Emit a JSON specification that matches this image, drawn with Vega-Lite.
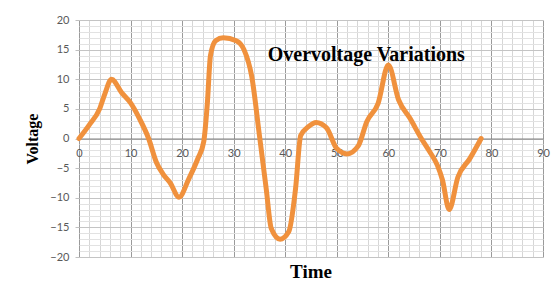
{
  "$schema": "https://vega.github.io/schema/vega-lite/v6.json",
  "width": 464,
  "height": 237,
  "autosize": {"type": "none"},
  "padding": {"left": 79, "top": 20, "right": 16, "bottom": 34},
  "background": "white",
  "config": {"view": {"stroke": null}},
  "title": {
    "text": "Time",
    "orient": "bottom",
    "anchor": "middle",
    "frame": "group",
    "font": "Liberation Serif",
    "fontSize": 19,
    "fontWeight": "bold",
    "color": "#000000",
    "offset": 1
  },
  "encoding": {
    "x": {
      "field": "t", "type": "quantitative",
      "scale": {"domain": [0, 90], "nice": false, "zero": false},
      "axis": {
        "title": null,
        "values": [0,2,4,6,8,10,12,14,16,18,20,22,24,26,28,30,32,34,36,38,40,42,44,46,48,50,52,54,56,58,60,62,64,66,68,70,72,74,76,78,80,82,84,86,88,90],
        "labelExpr": "datum.value % 10 === 0 ? datum.label : ''",
        "labelOverlap": false,
        "labelFlush": false,
        "labelFont": "Lato",
        "labelFontSize": 11,
        "labelColor": "#595959",
        "labelPadding": 9,
        "ticks": false,
        "offset": -118.5,
        "domain": true,
        "domainColor": "#808080",
        "domainWidth": 1,
        "grid": true,
        "gridColor": {"condition": {"test": "datum.value % 10 === 0", "value": "#9a9a9a"}, "value": "#d6d6d6"},
        "gridWidth": 1,
        "gridOpacity": 1
      }
    },
    "y": {
      "field": "v", "type": "quantitative",
      "scale": {"domain": [-20, 20], "nice": false},
      "axis": {
        "title": "Voltage",
        "titleFont": "Liberation Serif",
        "titleFontSize": 16,
        "titleFontWeight": "bold",
        "titleColor": "#000000",
        "titlePadding": 9,
        "values": [-20,-19,-18,-17,-16,-15,-14,-13,-12,-11,-10,-9,-8,-7,-6,-5,-4,-3,-2,-1,0,1,2,3,4,5,6,7,8,9,10,11,12,13,14,15,16,17,18,19,20],
        "labelExpr": "datum.value % 5 === 0 ? datum.label : ''",
        "labelOverlap": false,
        "labelFont": "Lato",
        "labelFontSize": 11,
        "labelColor": "#595959",
        "labelPadding": 6,
        "tickSize": 4,
        "tickColor": {"condition": {"test": "datum.value % 5 === 0", "value": "#c0c0c0"}, "value": "transparent"},
        "domain": false,
        "grid": true,
        "gridColor": {"condition": {"test": "datum.value % 5 === 0", "value": "#c4c4c4"}, "value": "#e2e2e2"},
        "gridWidth": 1,
        "gridOpacity": 1
      }
    }
  },
  "layer": [
    {
      "data": {
        "values": [
          {"t": 0, "v": 0}, {"t": 2, "v": 2.3}, {"t": 4, "v": 5}, {"t": 5, "v": 7.5},
          {"t": 6.3, "v": 10}, {"t": 8.3, "v": 7.7}, {"t": 10, "v": 6}, {"t": 11.7, "v": 3.4},
          {"t": 13.5, "v": 0}, {"t": 15, "v": -4}, {"t": 16.3, "v": -6}, {"t": 17.7, "v": -7.5},
          {"t": 19.4, "v": -9.9}, {"t": 21.3, "v": -6.8}, {"t": 23, "v": -3.5}, {"t": 24.2, "v": -0.5},
          {"t": 24.9, "v": 6}, {"t": 25.5, "v": 14}, {"t": 26.5, "v": 16.5}, {"t": 28, "v": 17},
          {"t": 30.5, "v": 16.5}, {"t": 32, "v": 15}, {"t": 33.5, "v": 10.5}, {"t": 35, "v": 0.5},
          {"t": 36.3, "v": -8.4}, {"t": 37.3, "v": -15.2}, {"t": 39, "v": -17}, {"t": 40.7, "v": -15.7},
          {"t": 42, "v": -8.5}, {"t": 43, "v": 0.5}, {"t": 44.5, "v": 2}, {"t": 46, "v": 2.7},
          {"t": 48, "v": 1.8}, {"t": 50, "v": -1.7}, {"t": 52, "v": -2.6}, {"t": 54.2, "v": -1.2},
          {"t": 55.8, "v": 2.8}, {"t": 58, "v": 5.9}, {"t": 60, "v": 12.4}, {"t": 62, "v": 6.5},
          {"t": 64.2, "v": 3.4}, {"t": 66.4, "v": 0}, {"t": 68, "v": -2.2}, {"t": 69.5, "v": -4.5},
          {"t": 70.5, "v": -7}, {"t": 71.8, "v": -12}, {"t": 73.5, "v": -6.5}, {"t": 75.8, "v": -3.4},
          {"t": 78, "v": 0}
        ]
      },
      "mark": {"type": "line", "interpolate": "monotone", "color": "#F0913D", "strokeWidth": 5, "strokeCap": "round", "strokeJoin": "round"}
    },
    {
      "data": {"values": [{"label": "Overvoltage Variations", "t": 36.6, "v": 13}]},
      "mark": {"type": "text", "align": "left", "baseline": "alphabetic", "font": "Liberation Serif", "fontSize": 20, "fontWeight": "bold", "color": "#000000"},
      "encoding": {
        "text": {"field": "label"}
      }
    }
  ]
}
